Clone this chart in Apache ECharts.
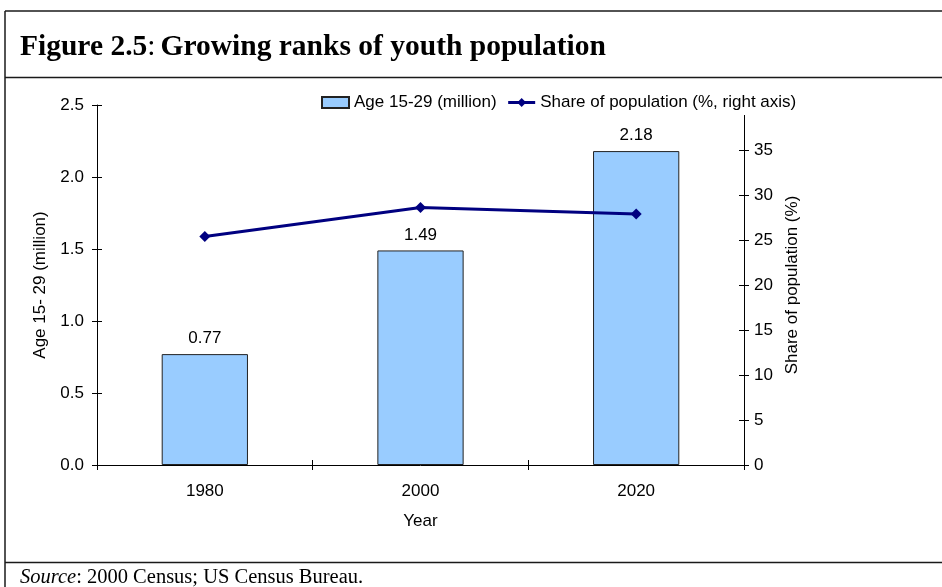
<!DOCTYPE html>
<html>
<head>
<meta charset="utf-8">
<script src="https://cdn.jsdelivr.net/npm/echarts@6/dist/echarts.min.js"></script>
<style>
  html, body { margin: 0; padding: 0; background: #fff; }
  #chart { width: 942px; height: 587px; }
</style>
</head>
<body>
<div id="chart"></div>
<script>
// Youth population (age 15-29) and its share of the total population
const years = ['1980', '2000', '2020'];
const youthMillions = [0.77, 1.49, 2.18];
const sharePercent = [25.4, 28.6, 27.9];
const leftTicks = [0, 0.5, 1.0, 1.5, 2.0, 2.5];
const rightTicks = [0, 5, 10, 15, 20, 25, 30, 35];

const chart = echarts.init(document.getElementById('chart'), null, { renderer: 'canvas' });

const FONT = 'Liberation Sans, Arial, sans-serif';
const SERIF = 'Liberation Serif, Times New Roman, serif';
const INK = '#000';
const FRAME = '#1a1a1a';
const FS = 17;

const crossTick = { show: true, inside: true, length: 5, lineStyle: { color: INK, width: 1 } };

chart.setOption({
  animation: false,
  backgroundColor: '#fff',
  textStyle: { fontFamily: FONT, color: INK },
  title: [
    {
      left: 15, top: 27,
      text: '{b|Figure 2.5}{n|:} {b|Growing ranks of youth population}',
      textStyle: {
        fontWeight: 'normal',
        rich: {
          b: { fontFamily: SERIF, fontWeight: 'bold', fontSize: 29.5, color: INK },
          n: { fontFamily: SERIF, fontWeight: 'normal', fontSize: 29.5, color: INK }
        }
      }
    },
    {
      left: 15, top: 562,
      text: '{i|Source}{n|: 2000 Census; US Census Bureau.}',
      textStyle: {
        fontWeight: 'normal',
        rich: {
          i: { fontFamily: SERIF, fontStyle: 'italic', fontWeight: 'normal', fontSize: 20.5, color: INK },
          n: { fontFamily: SERIF, fontWeight: 'normal', fontSize: 20.5, color: INK }
        }
      }
    }
  ],
  graphic: [
    { type: 'line', shape: { x1: 5, y1: 11, x2: 942, y2: 11 }, style: { stroke: FRAME, lineWidth: 1.5 } },
    { type: 'line', shape: { x1: 5, y1: 11, x2: 5, y2: 587 }, style: { stroke: FRAME, lineWidth: 1.5 } },
    { type: 'line', shape: { x1: 5, y1: 77.5, x2: 942, y2: 77.5 }, style: { stroke: FRAME, lineWidth: 1.5 } },
    { type: 'line', shape: { x1: 5, y1: 562.5, x2: 942, y2: 562.5 }, style: { stroke: FRAME, lineWidth: 1.5 } }
  ],
  legend: {
    left: 317, top: 92,
    padding: [2, 4, 4, 4],
    itemGap: 10,
    itemWidth: 27, itemHeight: 11,
    backgroundColor: '#fff',
    z: 20,
    textStyle: { fontFamily: FONT, fontSize: FS, color: INK },
    data: [
      { name: 'Age 15-29 (million)', icon: 'rect' },
      { name: 'Share of population (%, right axis)', lineStyle: { width: 3, color: '#000080' } }
    ]
  },
  grid: { left: 97, right: 198, top: 105, bottom: 122, containLabel: false },
  xAxis: [
    {
      type: 'category',
      data: years,
      name: 'Year',
      nameLocation: 'middle',
      nameGap: 48,
      nameTextStyle: { fontFamily: FONT, fontSize: FS, color: INK },
      axisLine: { lineStyle: { color: INK, width: 1 } },
      axisTick: { show: true, length: 5, alignWithLabel: false, lineStyle: { color: INK } },
      axisLabel: { fontFamily: FONT, fontSize: FS, color: INK, margin: 18 },
      splitLine: { show: false }
    },
    {
      type: 'category',
      data: years,
      position: 'bottom',
      axisLine: { show: false },
      axisTick: crossTick,
      axisLabel: { show: false },
      splitLine: { show: false }
    }
  ],
  yAxis: [
    {
      type: 'value',
      min: 0, max: 2.5, interval: 0.5,
      position: 'left',
      name: 'Age 15- 29 (million)',
      nameLocation: 'middle',
      nameGap: 48,
      nameRotate: 90,
      nameTextStyle: { fontFamily: FONT, fontSize: FS, color: INK },
      axisLine: { show: true, lineStyle: { color: INK, width: 1 } },
      axisTick: { show: true, length: 5, lineStyle: { color: INK } },
      axisLabel: {
        fontFamily: FONT, fontSize: FS, color: INK, margin: 13,
        formatter: v => v.toFixed(1)
      },
      splitLine: { show: false }
    },
    {
      type: 'value',
      min: 0, max: 40,
      position: 'right',
      name: 'Share of population (%)',
      nameLocation: 'middle',
      nameGap: 40,
      nameRotate: 90,
      nameTextStyle: { fontFamily: FONT, fontSize: FS, color: INK },
      axisLine: { show: true, lineStyle: { color: INK, width: 1 } },
      axisTick: { show: true, length: 5, lineStyle: { color: INK }, customValues: rightTicks },
      axisLabel: { fontFamily: FONT, fontSize: FS, color: INK, margin: 10, customValues: rightTicks },
      splitLine: { show: false }
    },
    {
      type: 'value',
      min: 0, max: 2.5, interval: 0.5,
      position: 'left',
      axisLine: { show: false },
      axisTick: crossTick,
      axisLabel: { show: false },
      splitLine: { show: false }
    },
    {
      type: 'value',
      min: 0, max: 40,
      position: 'right',
      axisLine: { show: false },
      axisTick: Object.assign({}, crossTick, { customValues: rightTicks }),
      axisLabel: { show: false },
      splitLine: { show: false }
    }
  ],
  series: [
    {
      name: 'Age 15-29 (million)',
      type: 'bar',
      xAxisIndex: 0,
      yAxisIndex: 0,
      data: youthMillions,
      barWidth: '40%',
      itemStyle: { color: '#99CCFF', borderColor: '#222', borderWidth: 1 },
      label: {
        show: true, position: 'top', distance: 7,
        fontFamily: FONT, fontSize: FS, color: INK,
        formatter: p => p.value.toFixed(2)
      }
    },
    {
      name: 'Share of population (%, right axis)',
      type: 'line',
      xAxisIndex: 0,
      yAxisIndex: 1,
      data: sharePercent,
      symbol: 'diamond',
      symbolSize: 11,
      lineStyle: { color: '#000080', width: 3 },
      itemStyle: { color: '#000080' },
      z: 5
    }
  ]
});
</script>
</body>
</html>
